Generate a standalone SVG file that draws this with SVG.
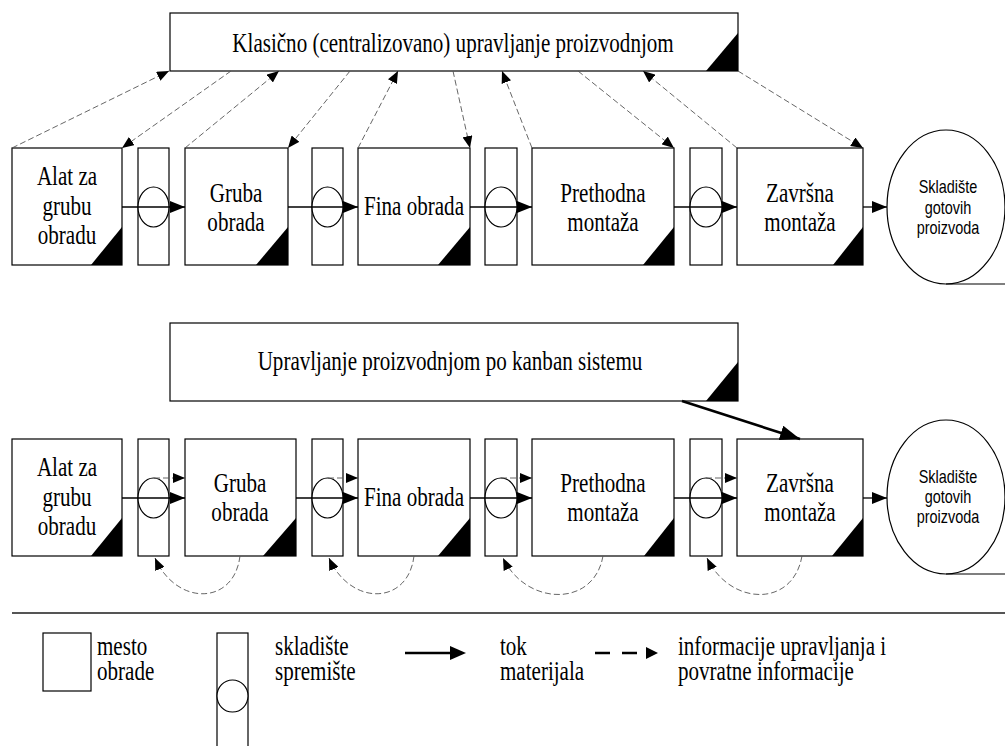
<svg xmlns="http://www.w3.org/2000/svg" width="1005" height="746" viewBox="0 0 1005 746">
  <style>
    .box { fill: #fff; stroke: #000; stroke-width: 1.2; }
    .corner { fill: #000; }
    .lbl { font-family: "Liberation Serif", "Times New Roman", serif; font-size: 27px; fill: #000; }
    .mid { text-anchor: middle; }
    .sans { font-family: "Liberation Sans", Arial, sans-serif; font-size: 18.5px; fill: #000; text-anchor: middle; }
    .mat { stroke: #000; stroke-width: 1.3; fill: none; }
    .info { stroke: #555; stroke-width: 0.9; stroke-dasharray: 6 3; fill: none; }
    .kan { stroke: #000; stroke-width: 2.6; fill: none; }
  </style>
  <defs>
    <marker id="ahMat" markerUnits="userSpaceOnUse" markerWidth="15" markerHeight="12" refX="15" refY="6" orient="auto">
      <path d="M0,0 L15,6 L0,12 z" fill="#000"/>
    </marker>
    <marker id="ahInfo" markerUnits="userSpaceOnUse" markerWidth="12" markerHeight="10" refX="12" refY="5" orient="auto">
      <path d="M0,0 L12,5 L0,10 z" fill="#000"/>
    </marker>
    <marker id="ahKan" markerUnits="userSpaceOnUse" markerWidth="20" markerHeight="15" refX="20" refY="7.5" orient="auto">
      <path d="M0,0 L20,7.5 L0,15 z" fill="#000"/>
    </marker>
  </defs>
  <rect width="1005" height="746" fill="#fff"/>

  <!-- ===== Upper scheme: centralized control ===== -->
  <g id="ctrl-classic">
    <rect class="box" x="170" y="13" width="568" height="58"/>
    <polygon class="corner" points="706,71 738,71 738,33"/>
    <text class="lbl mid" transform="translate(453 52) scale(0.78 1)">Klasično (centralizovano) upravljanje proizvodnjom</text>
  </g>

  <g id="r1-alat">
    <rect class="box" x="12" y="148" width="110" height="117"/>
    <polygon class="corner" points="91,265 122,265 122,227"/>
    <text class="lbl mid" transform="translate(67 185) scale(0.78 1)">Alat za</text>
    <text class="lbl mid" transform="translate(67 214.5) scale(0.78 1)">grubu</text>
    <text class="lbl mid" transform="translate(67 244) scale(0.78 1)">obradu</text>
  </g>
  <g id="r1-buf1">
    <rect class="box" x="138" y="148" width="31" height="117"/>
    <ellipse class="box" cx="153.5" cy="207" rx="15.5" ry="20"/>
  </g>
  <g id="r1-gruba">
    <rect class="box" x="185" y="148" width="103" height="117"/>
    <polygon class="corner" points="256,265 288,265 288,227"/>
    <text class="lbl mid" transform="translate(236 202) scale(0.78 1)">Gruba</text>
    <text class="lbl mid" transform="translate(236 231) scale(0.78 1)">obrada</text>
  </g>
  <g id="r1-buf2">
    <rect class="box" x="312" y="148" width="31" height="117"/>
    <ellipse class="box" cx="327.5" cy="207" rx="15.5" ry="20"/>
  </g>
  <g id="r1-fina">
    <rect class="box" x="358" y="148" width="112" height="117"/>
    <polygon class="corner" points="438,265 470,265 470,227"/>
    <text class="lbl mid" transform="translate(414 215) scale(0.78 1)">Fina obrada</text>
  </g>
  <g id="r1-buf3">
    <rect class="box" x="485" y="148" width="32" height="117"/>
    <ellipse class="box" cx="501" cy="207" rx="16" ry="20"/>
  </g>
  <g id="r1-prethodna">
    <rect class="box" x="532" y="148" width="142" height="117"/>
    <polygon class="corner" points="643,265 674,265 674,227"/>
    <text class="lbl mid" transform="translate(603 202) scale(0.78 1)">Prethodna</text>
    <text class="lbl mid" transform="translate(603 231) scale(0.78 1)">montaža</text>
  </g>
  <g id="r1-buf4">
    <rect class="box" x="690" y="148" width="32" height="117"/>
    <ellipse class="box" cx="706" cy="207" rx="16" ry="20"/>
  </g>
  <g id="r1-zavrsna">
    <rect class="box" x="737" y="148" width="126" height="117"/>
    <polygon class="corner" points="833,265 863,265 863,227"/>
    <text class="lbl mid" transform="translate(800 202) scale(0.78 1)">Završna</text>
    <text class="lbl mid" transform="translate(800 231) scale(0.78 1)">montaža</text>
  </g>
  <g id="r1-skladiste">
    <ellipse class="box" cx="946" cy="207" rx="59" ry="77"/>
    <line x1="946" y1="284" x2="1005" y2="284" stroke="#000" stroke-width="1.2"/>
    <text class="sans" transform="translate(948 193) scale(0.78 1)">Skladište</text>
    <text class="sans" transform="translate(948 214) scale(0.78 1)">gotovih</text>
    <text class="sans" transform="translate(948 234) scale(0.78 1)">proizvoda</text>
  </g>

  <!-- ===== Lower scheme: kanban control ===== -->
  <g id="ctrl-kanban">
    <rect class="box" x="170" y="323" width="568" height="78"/>
    <polygon class="corner" points="706,401 738,401 738,362"/>
    <text class="lbl mid" transform="translate(450 370) scale(0.78 1)">Upravljanje proizvodnjom po kanban sistemu</text>
  </g>

  <g id="r2-alat">
    <rect class="box" x="12" y="439" width="110" height="117"/>
    <polygon class="corner" points="91,556 122,556 122,518"/>
    <text class="lbl mid" transform="translate(67 476) scale(0.78 1)">Alat za</text>
    <text class="lbl mid" transform="translate(67 505.5) scale(0.78 1)">grubu</text>
    <text class="lbl mid" transform="translate(67 535) scale(0.78 1)">obradu</text>
  </g>
  <g id="r2-buf1">
    <rect class="box" x="138" y="439" width="31" height="117"/>
    <ellipse class="box" cx="153.5" cy="498" rx="15.5" ry="20"/>
  </g>
  <g id="r2-gruba">
    <rect class="box" x="185" y="439" width="111" height="117"/>
    <polygon class="corner" points="263,556 296,556 296,518"/>
    <text class="lbl mid" transform="translate(240 492) scale(0.78 1)">Gruba</text>
    <text class="lbl mid" transform="translate(240 521) scale(0.78 1)">obrada</text>
  </g>
  <g id="r2-buf2">
    <rect class="box" x="312" y="439" width="31" height="117"/>
    <ellipse class="box" cx="327.5" cy="498" rx="15.5" ry="20"/>
  </g>
  <g id="r2-fina">
    <rect class="box" x="358" y="439" width="112" height="117"/>
    <polygon class="corner" points="438,556 470,556 470,518"/>
    <text class="lbl mid" transform="translate(414 506) scale(0.78 1)">Fina obrada</text>
  </g>
  <g id="r2-buf3">
    <rect class="box" x="485" y="439" width="32" height="117"/>
    <ellipse class="box" cx="501" cy="498" rx="16" ry="20"/>
  </g>
  <g id="r2-prethodna">
    <rect class="box" x="532" y="439" width="142" height="117"/>
    <polygon class="corner" points="644,556 674,556 674,518"/>
    <text class="lbl mid" transform="translate(603 492) scale(0.78 1)">Prethodna</text>
    <text class="lbl mid" transform="translate(603 521) scale(0.78 1)">montaža</text>
  </g>
  <g id="r2-buf4">
    <rect class="box" x="690" y="439" width="32" height="117"/>
    <ellipse class="box" cx="706" cy="498" rx="16" ry="20"/>
  </g>
  <g id="r2-zavrsna">
    <rect class="box" x="737" y="439" width="126" height="117"/>
    <polygon class="corner" points="832,556 863,556 863,518"/>
    <text class="lbl mid" transform="translate(800 492) scale(0.78 1)">Završna</text>
    <text class="lbl mid" transform="translate(800 521) scale(0.78 1)">montaža</text>
  </g>
  <g id="r2-skladiste">
    <ellipse class="box" cx="946" cy="497" rx="59" ry="77"/>
    <line x1="946" y1="574" x2="1005" y2="574" stroke="#000" stroke-width="1.2"/>
    <text class="sans" transform="translate(948 483) scale(0.78 1)">Skladište</text>
    <text class="sans" transform="translate(948 503) scale(0.78 1)">gotovih</text>
    <text class="sans" transform="translate(948 523) scale(0.78 1)">proizvoda</text>
  </g>

  <!-- ===== Connectors ===== -->
  <g id="connectors">
    <!-- material flow, upper row -->
    <line class="mat" x1="122" y1="207" x2="185" y2="207" marker-end="url(#ahMat)"/>
    <line class="mat" x1="288" y1="207" x2="358" y2="207" marker-end="url(#ahMat)"/>
    <line class="mat" x1="470" y1="207" x2="532" y2="207" marker-end="url(#ahMat)"/>
    <line class="mat" x1="674" y1="207" x2="737" y2="207" marker-end="url(#ahMat)"/>
    <line class="mat" x1="863" y1="207" x2="887" y2="207" marker-end="url(#ahMat)"/>

    <!-- control / feedback info, upper row -->
    <line class="info" x1="12" y1="148" x2="169" y2="71" marker-end="url(#ahInfo)"/>
    <line class="info" x1="231" y1="71" x2="122" y2="148" marker-end="url(#ahInfo)"/>
    <line class="info" x1="185" y1="148" x2="279" y2="71" marker-end="url(#ahInfo)"/>
    <line class="info" x1="350" y1="71" x2="288" y2="148" marker-end="url(#ahInfo)"/>
    <line class="info" x1="358" y1="148" x2="398" y2="71" marker-end="url(#ahInfo)"/>
    <line class="info" x1="453" y1="71" x2="470" y2="148" marker-end="url(#ahInfo)"/>
    <line class="info" x1="532" y1="148" x2="502" y2="71" marker-end="url(#ahInfo)"/>
    <line class="info" x1="578" y1="71" x2="674" y2="148" marker-end="url(#ahInfo)"/>
    <line class="info" x1="737" y1="148" x2="643" y2="71" marker-end="url(#ahInfo)"/>
    <line class="info" x1="738" y1="71" x2="863" y2="148" marker-end="url(#ahInfo)"/>

    <!-- material flow, lower row -->
    <line class="mat" x1="122" y1="498" x2="185" y2="498" marker-end="url(#ahMat)"/>
    <line class="mat" x1="296" y1="498" x2="358" y2="498" marker-end="url(#ahMat)"/>
    <line class="mat" x1="470" y1="498" x2="532" y2="498" marker-end="url(#ahMat)"/>
    <line class="mat" x1="674" y1="498" x2="737" y2="498" marker-end="url(#ahMat)"/>
    <line class="mat" x1="863" y1="498" x2="887" y2="498" marker-end="url(#ahMat)"/>

    <!-- kanban pull signals: buffer to next station -->
    <line class="info" x1="154" y1="478" x2="185" y2="478" marker-end="url(#ahInfo)"/>
    <line class="info" x1="328" y1="478" x2="358" y2="478" marker-end="url(#ahInfo)"/>
    <line class="info" x1="501" y1="478" x2="532" y2="478" marker-end="url(#ahInfo)"/>
    <line class="info" x1="706" y1="478" x2="737" y2="478" marker-end="url(#ahInfo)"/>

    <!-- kanban feedback: station back to preceding buffer -->
    <path class="info" d="M240,556 C234,606 176,606 155,558" marker-end="url(#ahInfo)"/>
    <path class="info" d="M414,556 C408,606 350,606 329,558" marker-end="url(#ahInfo)"/>
    <path class="info" d="M603,556 C594,608 526,606 503,558" marker-end="url(#ahInfo)"/>
    <path class="info" d="M802,556 C793,608 730,606 707,558" marker-end="url(#ahInfo)"/>

    <!-- kanban control into final assembly -->
    <line class="kan" x1="682" y1="401" x2="800" y2="439" marker-end="url(#ahKan)"/>
  </g>

  <!-- ===== Legend ===== -->
  <line x1="12" y1="613" x2="1005" y2="613" stroke="#555" stroke-width="2"/>
  <g id="legend">
    <rect class="box" x="43" y="633" width="48" height="58"/>
    <text class="lbl" transform="translate(97 655) scale(0.78 1)">mesto</text>
    <text class="lbl" transform="translate(97 680) scale(0.78 1)">obrade</text>

    <rect class="box" x="217" y="633" width="31" height="120"/>
    <ellipse class="box" cx="232.5" cy="696" rx="15.5" ry="16"/>
    <text class="lbl" transform="translate(275 655) scale(0.78 1)">skladište</text>
    <text class="lbl" transform="translate(275 680) scale(0.78 1)">spremište</text>

    <line x1="405" y1="653" x2="452" y2="653" stroke="#000" stroke-width="2.5"/>
    <polygon points="450,646 466,653 450,660" fill="#000"/>
    <text class="lbl" transform="translate(500 655) scale(0.78 1)">tok</text>
    <text class="lbl" transform="translate(500 680) scale(0.78 1)">materijala</text>

    <line x1="595" y1="653" x2="637" y2="653" stroke="#000" stroke-width="2.5" stroke-dasharray="15 12"/>
    <polygon points="646,647 658,653 646,659" fill="#000"/>
    <text class="lbl" transform="translate(678 655) scale(0.78 1)">informacije upravljanja i</text>
    <text class="lbl" transform="translate(678 680) scale(0.78 1)">povratne informacije</text>
  </g>
</svg>
